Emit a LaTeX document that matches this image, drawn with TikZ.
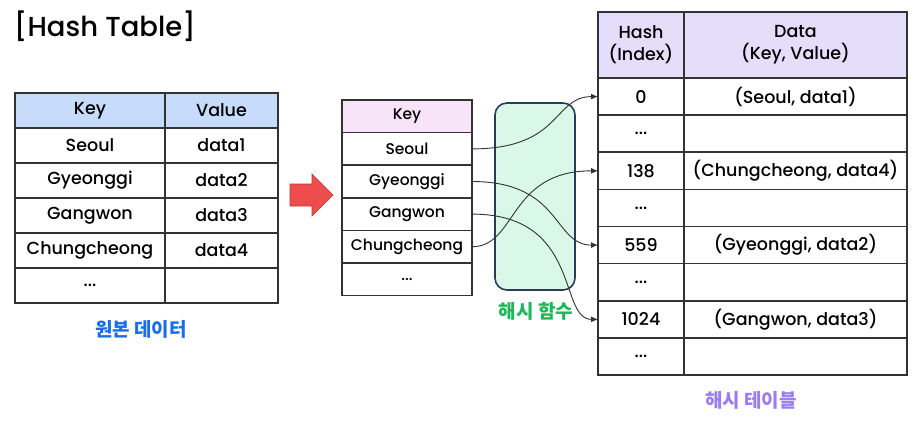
\documentclass[tikz,border=0pt]{standalone}
\usepackage{fontspec}
\setmainfont{Poppins}[UprightFont=* Medium]
\newfontfamily\kofont{Noto Sans CJK KR}
\usetikzlibrary{arrows.meta}

\definecolor{gridgray}{HTML}{333333}
\definecolor{srchead}{HTML}{C6DCFA}
\definecolor{keyhead}{HTML}{F7E4F9}
\definecolor{tablehead}{HTML}{E4DEFB}
\definecolor{hashfill}{HTML}{D9F8E7}
\definecolor{hashline}{HTML}{2B3B5C}
\definecolor{arrowred}{HTML}{EE4D4D}
\definecolor{arrowedge}{HTML}{C23232}
\definecolor{srcblue}{HTML}{1A6FE8}
\definecolor{fngreen}{HTML}{1EB85A}
\definecolor{tblpurple}{HTML}{9B7DF2}

\newcommand{\celldots}{...}

\begin{document}
\begin{tikzpicture}[x=1pt, y=-1pt,
    cell/.style={draw=gridgray, line width=1.6pt, inner sep=0pt, outer sep=0pt},
    srccell/.style={cell, minimum height=35pt, font=\fontsize{17.5}{20}\selectfont},
    keycell/.style={cell, minimum width=130pt, minimum height=32.6pt, font=\fontsize{15.5}{18}\selectfont},
    hashcell/.style={cell, minimum height=37.1pt, font=\fontsize{17.5}{19}\selectfont},
    conn/.style={draw=gridgray, line width=0.9pt, -{Latex[length=7pt,width=6pt]}},
    caption/.style={font=\kofont\bfseries\fontsize{19}{22}\selectfont}]
    \useasboundingbox (0,0) rectangle (922,421);

    % title
    \node[anchor=west, inner sep=0pt, font=\fontsize{27.5}{30}\selectfont] (title) at (14,26) {[Hash Table]};

    % source data
    \node[srccell, fill=srchead, minimum width=150pt] (lkh) at (90,110.5) {Key};
    \node[srccell, fill=srchead, minimum width=113pt] (lvh) at (221.5,110.5) {Value};
    \foreach \i/\k/\v in {1/Seoul/data1, 2/Gyeonggi/data2, 3/Gangwon/data3,
                          4/Chungcheong/data4, 5/\celldots/} {
            \node[srccell, minimum width=150pt] (lk\i) at (90,{110.5+35*\i}) {\k};
            \node[srccell, minimum width=113pt] (lv\i) at (221.5,{110.5+35*\i}) {\v};
        }
    \node[caption, text=srcblue] (srclabel) at (141,329) {원본 데이터};

    % red arrow
    \fill[arrowred, draw=arrowedge, line width=0.6pt]
        (290,184) -- (312,184) -- (312,174) -- (333,195) -- (312,216) -- (312,206) -- (290,206) -- cycle;

    % keys
    \node[keycell, fill=keyhead] (mkh) at (407,116.3) {Key};
    \foreach \i/\k in {1/Seoul, 2/Gyeonggi, 3/Gangwon, 4/Chungcheong, 5/\celldots} {
            \node[keycell] (mk\i) at (407,{116.3+32.6*\i}) {\k};
        }

    % hash function
    \node[draw=hashline, fill=hashfill, line width=1.6pt, rounded corners=12pt,
        minimum width=80pt, minimum height=187pt] (hashfn) at (535,196.5) {};
    \node[caption, text=fngreen] (fnlabel) at (536,311) {해시 함수};

    % hash table
    \node[hashcell, fill=tablehead, minimum width=86pt, minimum height=66pt, align=center] (hh) at (641,45) {Hash\\[3pt](Index)};
    \node[hashcell, fill=tablehead, minimum width=223pt, minimum height=66pt, align=center] (dh) at (795.5,45) {Data\\[3pt](Key, Value)};
    \foreach \i/\h/\d in {1/0/{(Seoul, data1)}, 2/\celldots/, 3/138/{(Chungcheong, data4)}, 4/\celldots/,
                          5/559/{(Gyeonggi, data2)}, 6/\celldots/, 7/1024/{(Gangwon, data3)}, 8/\celldots/} {
            \node[hashcell, minimum width=86pt] (h\i) at (641,{96.6+37.125*(\i-1)}) {\h};
            \node[hashcell, minimum width=223pt] (d\i) at (795.5,{96.6+37.125*(\i-1)}) {\d};
        }
    \node[caption, text=tblpurple] (tbllabel) at (751,400) {해시 테이블};

    \foreach \s/\t/\a/\b in {mk1/h1/90/45, mk2/h5/90/45, mk3/h7/110/40, mk4/h3/45/90} {
            \draw[conn] (\s.east) .. controls +(\a,0) and +(-\b,0) .. (\t.west);
        }
\end{tikzpicture}
\end{document}
